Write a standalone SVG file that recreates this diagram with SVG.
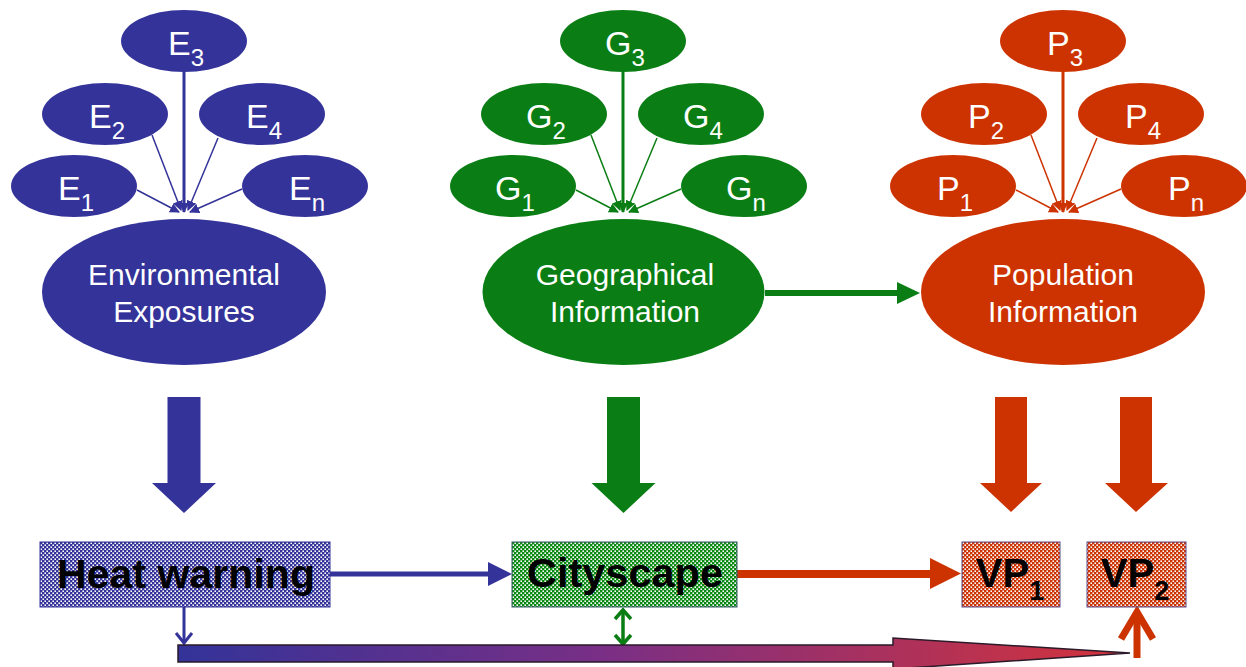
<svg xmlns="http://www.w3.org/2000/svg" width="1246" height="667" viewBox="0 0 1246 667">
<defs>
<style>
.lbl{font-family:"Liberation Sans",Arial,sans-serif;fill:#fff;text-anchor:middle}
.sm{font-size:34px}
.big{font-size:30px}
.box{font-family:"Liberation Sans",Arial,sans-serif;font-weight:bold;fill:#000;text-anchor:middle;font-size:40px}
.b{fill:#333399}.g{fill:#0a7e14}.r{fill:#cc3300}
.lb{stroke:#333399;fill:none}.lg{stroke:#0a7e14;fill:none}.lr{stroke:#cc3300;fill:none}
</style>
<marker id="mB" viewBox="0 0 10 10" refX="9" refY="5" markerWidth="10" markerHeight="10" markerUnits="userSpaceOnUse" orient="auto"><path d="M0,0 L10,5 L0,10 z" fill="#333399"/></marker>
<marker id="mG" viewBox="0 0 10 10" refX="9" refY="5" markerWidth="10" markerHeight="10" markerUnits="userSpaceOnUse" orient="auto"><path d="M0,0 L10,5 L0,10 z" fill="#0a7e14"/></marker>
<marker id="mR" viewBox="0 0 10 10" refX="9" refY="5" markerWidth="10" markerHeight="10" markerUnits="userSpaceOnUse" orient="auto"><path d="M0,0 L10,5 L0,10 z" fill="#cc3300"/></marker>
<pattern id="pB" width="4" height="4" patternUnits="userSpaceOnUse"><rect width="4" height="4" fill="#333399"/><rect x="0.4" y="0.4" width="1.6" height="1.6" fill="#fff"/><rect x="2.4" y="2.4" width="1.6" height="1.6" fill="#fff"/></pattern>
<pattern id="pG" width="4" height="4" patternUnits="userSpaceOnUse"><rect width="4" height="4" fill="#0a8a14"/><rect x="0.4" y="0.4" width="1.6" height="1.6" fill="#fff"/><rect x="2.4" y="2.4" width="1.6" height="1.6" fill="#fff"/></pattern>
<pattern id="pR" width="4" height="4" patternUnits="userSpaceOnUse"><rect width="4" height="4" fill="#cc3300"/><rect x="0.4" y="0.4" width="1.6" height="1.6" fill="#fff"/><rect x="2.4" y="2.4" width="1.6" height="1.6" fill="#fff"/></pattern>
<linearGradient id="grad" x1="178" y1="0" x2="1130" y2="0" gradientUnits="userSpaceOnUse"><stop offset="0" stop-color="#333399"/><stop offset="0.45" stop-color="#7a2f85"/><stop offset="1" stop-color="#d4333a"/></linearGradient>
</defs>
<rect width="1246" height="667" fill="#fff"/>

<g id="connectors">
<line class="lb" x1="184" y1="72" x2="184" y2="212" stroke-width="3" marker-end="url(#mB)"/>
<line class="lb" x1="152" y1="135" x2="181" y2="210" stroke-width="1.5" marker-end="url(#mB)"/>
<line class="lb" x1="218" y1="138" x2="188" y2="210" stroke-width="1.5" marker-end="url(#mB)"/>
<line class="lb" x1="137" y1="190" x2="179" y2="212" stroke-width="1.5" marker-end="url(#mB)"/>
<line class="lb" x1="242" y1="189" x2="190" y2="212" stroke-width="1.5" marker-end="url(#mB)"/>
<line class="lg" x1="623" y1="72" x2="623" y2="212" stroke-width="3" marker-end="url(#mG)"/>
<line class="lg" x1="591" y1="135" x2="620" y2="210" stroke-width="1.5" marker-end="url(#mG)"/>
<line class="lg" x1="657" y1="138" x2="627" y2="210" stroke-width="1.5" marker-end="url(#mG)"/>
<line class="lg" x1="576" y1="190" x2="618" y2="212" stroke-width="1.5" marker-end="url(#mG)"/>
<line class="lg" x1="681" y1="189" x2="629" y2="212" stroke-width="1.5" marker-end="url(#mG)"/>
<line class="lr" x1="1063" y1="72" x2="1063" y2="212" stroke-width="3" marker-end="url(#mR)"/>
<line class="lr" x1="1031" y1="135" x2="1060" y2="210" stroke-width="1.5" marker-end="url(#mR)"/>
<line class="lr" x1="1097" y1="138" x2="1067" y2="210" stroke-width="1.5" marker-end="url(#mR)"/>
<line class="lr" x1="1016" y1="190" x2="1058" y2="212" stroke-width="1.5" marker-end="url(#mR)"/>
<line class="lr" x1="1121" y1="189" x2="1069" y2="212" stroke-width="1.5" marker-end="url(#mR)"/>
<line class="lg" x1="765" y1="293" x2="900" y2="293" stroke-width="6"/>
<path class="g" d="M897,282 L920,293 L897,304 z"/>
<path class="b" d="M167.5,397 H200.5 V483 H216 L184,513 L152,483 H167.5 z"/>
<path class="g" d="M607,397 H640 V483 H655.5 L623.5,513 L591.5,483 H607 z"/>
<path class="r" d="M995,397 H1027 V483 H1042 L1011,512 L980,483 H995 z"/>
<path class="r" d="M1120,397 H1152 V483 H1168 L1136,512 L1105,483 H1120 z"/>
<line class="lb" x1="330" y1="574" x2="490" y2="574" stroke-width="5"/>
<path class="b" d="M488,562 L512,574 L488,586 z"/>
<line class="lr" x1="737" y1="574" x2="932" y2="574" stroke-width="8"/>
<path class="r" d="M930,558 L961,573.5 L930,589 z"/>
<line class="lb" x1="184" y1="607" x2="184" y2="643" stroke-width="3"/>
<polyline class="lb" points="176,633 184,643 192,633" stroke-width="3"/>
<line class="lg" x1="623" y1="610" x2="623" y2="644" stroke-width="3.5"/>
<polyline class="lg" points="615,619 623,610 631,619" stroke-width="3.5"/>
<polyline class="lg" points="615,635 623,644 631,635" stroke-width="3.5"/>
<path d="M178,645 H893 V638 L1130,653 L893,669 V662 H178 z" fill="url(#grad)" stroke="#2a1a2a" stroke-width="1.5"/>
<line class="lr" x1="1137" y1="658" x2="1137" y2="612" stroke-width="7"/>
<polyline class="lr" points="1121,639 1137,612 1153,639" stroke-width="7"/>
</g>

<g id="E3"><ellipse class="b" cx="184" cy="41" rx="63" ry="31"/><text class="lbl sm" x="186" y="55">E<tspan font-size="24" dy="11">3</tspan></text></g>
<g id="E2"><ellipse class="b" cx="105" cy="114" rx="63" ry="31"/><text class="lbl sm" x="107" y="128">E<tspan font-size="24" dy="11">2</tspan></text></g>
<g id="E4"><ellipse class="b" cx="262" cy="114" rx="63" ry="31"/><text class="lbl sm" x="264" y="128">E<tspan font-size="24" dy="11">4</tspan></text></g>
<g id="E1"><ellipse class="b" cx="74" cy="186" rx="63" ry="31"/><text class="lbl sm" x="76" y="200">E<tspan font-size="24" dy="11">1</tspan></text></g>
<g id="En"><ellipse class="b" cx="305" cy="186" rx="63" ry="31"/><text class="lbl sm" x="307" y="200">E<tspan font-size="24" dy="11">n</tspan></text></g>
<g id="env"><ellipse class="b" cx="184" cy="292" rx="142" ry="73"/><text class="lbl big" x="184" y="285">Environmental</text><text class="lbl big" x="184" y="322">Exposures</text></g>

<g id="G3"><ellipse class="g" cx="623" cy="41" rx="63" ry="31"/><text class="lbl sm" x="625" y="55">G<tspan font-size="24" dy="11">3</tspan></text></g>
<g id="G2"><ellipse class="g" cx="544" cy="114" rx="63" ry="31"/><text class="lbl sm" x="546" y="128">G<tspan font-size="24" dy="11">2</tspan></text></g>
<g id="G4"><ellipse class="g" cx="701" cy="114" rx="63" ry="31"/><text class="lbl sm" x="703" y="128">G<tspan font-size="24" dy="11">4</tspan></text></g>
<g id="G1"><ellipse class="g" cx="513" cy="186" rx="63" ry="31"/><text class="lbl sm" x="515" y="200">G<tspan font-size="24" dy="11">1</tspan></text></g>
<g id="Gn"><ellipse class="g" cx="744" cy="186" rx="63" ry="31"/><text class="lbl sm" x="746" y="200">G<tspan font-size="24" dy="11">n</tspan></text></g>
<g id="geo"><ellipse class="g" cx="623.5" cy="292" rx="141" ry="73"/><text class="lbl big" x="625" y="285">Geographical</text><text class="lbl big" x="625" y="322">Information</text></g>

<g id="P3"><ellipse class="r" cx="1063" cy="41" rx="63" ry="31"/><text class="lbl sm" x="1065" y="55">P<tspan font-size="24" dy="11">3</tspan></text></g>
<g id="P2"><ellipse class="r" cx="984" cy="114" rx="63" ry="31"/><text class="lbl sm" x="986" y="128">P<tspan font-size="24" dy="11">2</tspan></text></g>
<g id="P4"><ellipse class="r" cx="1141" cy="114" rx="63" ry="31"/><text class="lbl sm" x="1143" y="128">P<tspan font-size="24" dy="11">4</tspan></text></g>
<g id="P1"><ellipse class="r" cx="953" cy="186" rx="63" ry="31"/><text class="lbl sm" x="955" y="200">P<tspan font-size="24" dy="11">1</tspan></text></g>
<g id="Pn"><ellipse class="r" cx="1184" cy="186" rx="63" ry="31"/><text class="lbl sm" x="1186" y="200">P<tspan font-size="24" dy="11">n</tspan></text></g>
<g id="pop"><ellipse class="r" cx="1063" cy="292" rx="142" ry="73"/><text class="lbl big" x="1063" y="285">Population</text><text class="lbl big" x="1063" y="322">Information</text></g>

<g id="heat"><rect x="40" y="542" width="290" height="65" fill="url(#pB)" stroke="#333399" stroke-width="1"/><text class="box" x="186" y="588" textLength="258" lengthAdjust="spacingAndGlyphs">Heat warning</text></g>
<g id="city"><rect x="512" y="542" width="225" height="65" fill="url(#pG)" stroke="#3a5a6a" stroke-width="1"/><text class="box" x="625" y="587" textLength="196" lengthAdjust="spacingAndGlyphs">Cityscape</text></g>
<g id="vp1"><rect x="962" y="542" width="98" height="65" fill="url(#pR)" stroke="#5a4a8a" stroke-width="1"/><text class="box" x="1010" y="587">VP<tspan font-size="27" dy="13">1</tspan></text></g>
<g id="vp2"><rect x="1087" y="542" width="99" height="65" fill="url(#pR)" stroke="#5a4a8a" stroke-width="1"/><text class="box" x="1135" y="587">VP<tspan font-size="27" dy="13">2</tspan></text></g>
</svg>
